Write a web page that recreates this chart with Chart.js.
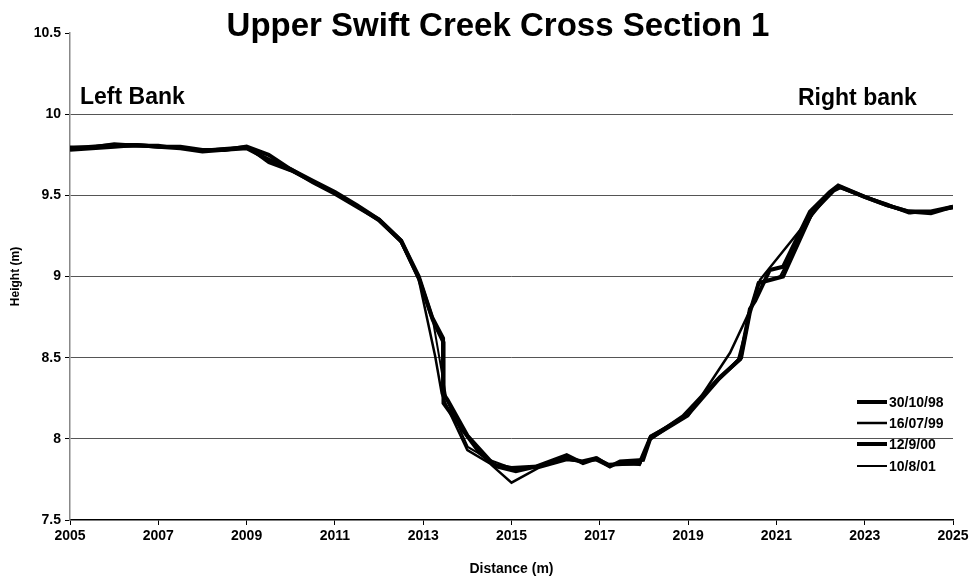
<!DOCTYPE html>
<html>
<head>
<meta charset="utf-8">
<script src="https://cdn.jsdelivr.net/npm/chart.js@4.4.1/dist/chart.umd.min.js"></script>
<style>
  html, body { margin: 0; padding: 0; background: #fff; }
  #wrap { width: 974px; height: 582px; position: relative; }
</style>
</head>
<body>
<div id="wrap"><canvas id="c" width="974" height="582"></canvas></div>
<script>
// ---- Data ----
const chartTitle = "Upper Swift Creek Cross Section 1";
const leftLabel = "Left Bank";
const rightLabel = "Right bank";
const seriesLabels = ["30/10/98", "16/07/99", "12/9/00", "10/8/01"];
const xTickValues = [2005, 2007, 2009, 2011, 2013, 2015, 2017, 2019, 2021, 2023, 2025];
const yTickValues = [7.5, 8, 8.5, 9, 9.5, 10, 10.5];

const dist98 = [2005, 2005.5, 2006, 2006.5, 2007, 2007.5, 2008, 2008.5, 2009, 2009.5, 2010, 2010.5, 2011, 2011.5, 2012, 2012.5, 2012.9, 2013.2, 2013.45, 2013.45, 2013.55, 2014, 2014.6, 2015, 2015.6, 2016.25, 2016.6, 2016.9, 2017.2, 2017.9, 2018.15, 2019, 2019.7, 2020.2, 2020.4, 2020.6, 2021.15, 2021.8, 2022.3, 2022.45, 2023, 2023.5, 2024, 2024.5, 2025];
const height98 = [9.79, 9.80, 9.81, 9.81, 9.80, 9.80, 9.78, 9.78, 9.80, 9.75, 9.66, 9.59, 9.52, 9.44, 9.35, 9.22, 9.00, 8.75, 8.62, 8.28, 8.24, 8.02, 7.84, 7.82, 7.83, 7.88, 7.86, 7.88, 7.84, 7.85, 8.01, 8.15, 8.37, 8.50, 8.78, 8.96, 9.00, 9.39, 9.53, 9.55, 9.49, 9.44, 9.40, 9.40, 9.43];

const dist99 = [2005, 2005.5, 2006, 2006.5, 2007, 2007.5, 2008, 2008.5, 2009, 2009.5, 2010, 2010.5, 2011, 2011.5, 2012, 2012.5, 2012.9, 2013.27, 2013.42, 2013.5, 2014, 2014.5, 2015, 2015.6, 2016.25, 2016.6, 2016.9, 2017.2, 2017.5, 2017.9, 2018.15, 2019, 2019.95, 2020.4, 2020.63, 2022.2, 2022.4, 2023, 2023.5, 2024, 2024.5, 2025];
const height99 = [9.80, 9.80, 9.82, 9.81, 9.81, 9.79, 9.78, 9.79, 9.80, 9.70, 9.65, 9.58, 9.51, 9.43, 9.34, 9.21, 8.98, 8.51, 8.28, 8.22, 7.93, 7.85, 7.73, 7.82, 7.87, 7.86, 7.87, 7.83, 7.86, 7.84, 8.00, 8.14, 8.53, 8.79, 8.98, 9.51, 9.55, 9.49, 9.44, 9.39, 9.40, 9.42];

const dist00 = [2005, 2005.5, 2006, 2006.5, 2007, 2007.5, 2008, 2008.5, 2009, 2009.5, 2010, 2010.5, 2011, 2011.5, 2012, 2012.5, 2012.9, 2013.22, 2013.45, 2013.46, 2013.91, 2014.29, 2014.66, 2015.1, 2015.57, 2016.25, 2016.62, 2016.93, 2017.23, 2017.46, 2017.98, 2018.14, 2018.89, 2019.72, 2020.18, 2020.4, 2020.52, 2020.85, 2021.15, 2021.76, 2022.21, 2022.4, 2023, 2023.5, 2024, 2024.5, 2025];
const height00 = [9.78, 9.79, 9.80, 9.81, 9.80, 9.79, 9.77, 9.78, 9.79, 9.72, 9.66, 9.58, 9.51, 9.43, 9.35, 9.22, 8.99, 8.73, 8.60, 8.22, 8.05, 7.91, 7.83, 7.80, 7.83, 7.90, 7.85, 7.88, 7.83, 7.86, 7.87, 8.00, 8.14, 8.38, 8.49, 8.80, 8.85, 9.04, 9.06, 9.40, 9.52, 9.56, 9.49, 9.44, 9.40, 9.39, 9.43];

const dist01 = [2005, 2005.5, 2006, 2006.5, 2007, 2007.5, 2008, 2008.5, 2009, 2009.5, 2010, 2010.5, 2011, 2011.5, 2012, 2012.5, 2012.93, 2013.22, 2013.53, 2014.01, 2014.51, 2015.0, 2015.57, 2016.25, 2016.62, 2016.93, 2017.23, 2017.91, 2018.14, 2018.89, 2019.72, 2020.13, 2020.58, 2021.08, 2021.83, 2022.28, 2022.44, 2023.05, 2023.5, 2024.03, 2024.55, 2025];
const height01 = [9.79, 9.80, 9.80, 9.80, 9.80, 9.79, 9.78, 9.79, 9.79, 9.71, 9.65, 9.59, 9.52, 9.44, 9.35, 9.21, 8.98, 8.73, 8.24, 7.95, 7.87, 7.82, 7.83, 7.88, 7.86, 7.87, 7.84, 7.84, 8.02, 8.13, 8.37, 8.49, 8.96, 9.00, 9.39, 9.53, 9.55, 9.49, 9.45, 9.39, 9.40, 9.43];

const seriesX = [dist98, dist99, dist00, dist01];
const seriesY = [height98, height99, height00, height01];
const seriesWidths = [4, 2.5, 4, 2];

const FONT = "'Liberation Sans', Arial, Helvetica, sans-serif";

const datasets = seriesLabels.map((lab, i) => ({
  label: lab,
  data: seriesX[i].map((x, j) => ({ x: x, y: seriesY[i][j] })),
  borderColor: '#000',
  backgroundColor: '#000',
  borderWidth: seriesWidths[i],
  pointRadius: 0,
  tension: 0,
  fill: false
}));

const decorPlugin = {
  id: 'decor',
  afterDraw(chart) {
    const ctx = chart.ctx;
    ctx.save();
    ctx.fillStyle = '#000';
    // title
    ctx.font = "bold 33px " + FONT;
    ctx.textAlign = 'center';
    ctx.textBaseline = 'alphabetic';
    ctx.fillText(chartTitle, 498, 36);
    // bank labels
    ctx.font = "bold 23px " + FONT;
    ctx.textAlign = 'left';
    ctx.fillText(leftLabel, 80, 104);
    ctx.fillText(rightLabel, 798, 105);
    // legend
    const legY = [402, 423, 444, 466];
    ctx.font = "bold 14px " + FONT;
    ctx.textBaseline = 'middle';
    chart.data.datasets.forEach((ds, i) => {
      ctx.strokeStyle = '#000';
      ctx.lineWidth = ds.borderWidth;
      ctx.beginPath();
      ctx.moveTo(857, legY[i]);
      ctx.lineTo(887, legY[i]);
      ctx.stroke();
      ctx.fillText(ds.label, 889, legY[i] + 1);
    });
    ctx.restore();
  }
};

new Chart(document.getElementById('c'), {
  type: 'line',
  data: { datasets: datasets },
  options: {
    responsive: false,
    animation: false,
    layout: { padding: { top: 33, right: 21, left: 0, bottom: 0 } },
    plugins: { legend: { display: false }, title: { display: false }, tooltip: { enabled: false } },
    scales: {
      x: {
        type: 'linear',
        min: 2005, max: 2025,
        afterBuildTicks(s) { s.ticks = xTickValues.map(v => ({ value: v })); },
        afterFit(s) { s.height = 62; },
        grid: { drawOnChartArea: false, tickLength: 5, tickColor: '#000', color: '#000' },
        border: { color: '#000', width: 1.5 },
        ticks: { color: '#000', font: { family: FONT, size: 14, weight: 'bold' }, padding: 3, maxRotation: 0, autoSkip: false, callback: v => String(v) },
        title: { display: true, text: 'Distance (m)', color: '#000', font: { family: FONT, size: 14, weight: 'bold' }, padding: { top: 0, bottom: 4 } }
      },
      y: {
        type: 'linear',
        min: 7.5, max: 10.5,
        afterBuildTicks(s) { s.ticks = yTickValues.map(v => ({ value: v })); },
        afterFit(s) { s.width = 70; },
        grid: {
          tickLength: 5,
          tickColor: '#000',
          color: ctx => (ctx.tick && (ctx.tick.value === 10.5 || ctx.tick.value === 7.5)) ? 'rgba(0,0,0,0)' : '#555',
          lineWidth: 1
        },
        border: { color: '#888', width: 1.5 },
        ticks: { color: '#000', font: { family: FONT, size: 14, weight: 'bold' }, padding: 4, callback: v => String(v) },
        title: { display: true, text: 'Height (m)', color: '#000', font: { family: FONT, size: 12, weight: 'bold' }, padding: { top: 8, bottom: 0 } }
      }
    }
  },
  plugins: [decorPlugin]
});
</script>
</body>
</html>
